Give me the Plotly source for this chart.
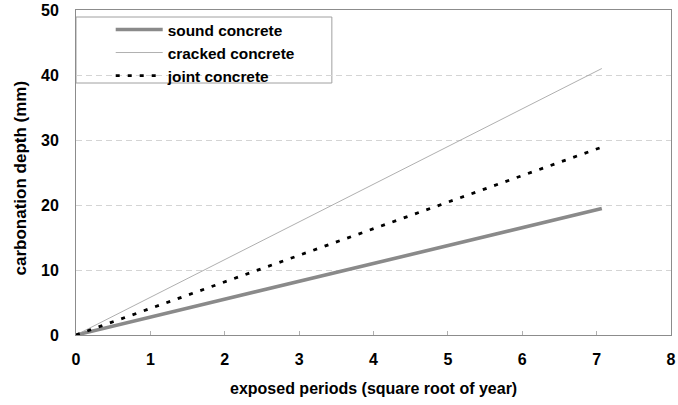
import plotly.graph_objects as go

# exposure time axis (square root of years) and measured carbonation depths (mm)
sqrt_years = [0, 1, 2, 3, 4, 5, 6, 7.07]
sound_depth = [0, 2.75, 5.5, 8.25, 11.0, 13.75, 16.5, 19.45]
cracked_depth = [0, 5.8, 11.6, 17.4, 23.2, 29.0, 34.8, 41.0]
joint_depth = [0, 4.1, 8.2, 12.3, 16.4, 20.4, 24.5, 28.9]

x_ticks = [0, 1, 2, 3, 4, 5, 6, 7, 8]
y_ticks = [0, 10, 20, 30, 40, 50]

FONT = "Liberation Sans"
W, H = 678, 405
ML, MR, MT, MB = 76, 2, 10, 70

fig = go.Figure()
fig.add_trace(go.Scatter(
    x=sqrt_years, y=sound_depth, mode="lines", name="sound concrete",
    line=dict(color="#8a8a8a", width=3.6)))
fig.add_trace(go.Scatter(
    x=sqrt_years, y=cracked_depth, mode="lines", name="cracked concrete",
    line=dict(color="#9a9a9a", width=0.8)))
fig.add_trace(go.Scatter(
    x=sqrt_years, y=joint_depth, mode="lines", name="joint concrete",
    line=dict(color="#000000", width=2.8, dash="4px,8px")))

pw = W - ML - MR
ph = H - MT - MB

def px_x(p):
    return (p - ML) / pw

def px_y(p):
    return 1 - (p - MT) / ph

# legend frame
fig.add_shape(type="rect", xref="paper", yref="paper",
              x0=px_x(76), x1=px_x(334), y0=px_y(83), y1=px_y(17),
              line=dict(color="#a0a0a0", width=1), fillcolor="white", layer="below")

fig.update_layout(
    width=W, height=H,
    margin=dict(l=ML, r=MR, t=MT, b=MB),
    paper_bgcolor="white", plot_bgcolor="white",
    font=dict(family=FONT, size=16, color="black"),
    showlegend=True,
    legend=dict(
        x=px_x(111), y=px_y(13), xanchor="left", yanchor="top",
        bgcolor="rgba(0,0,0,0)", borderwidth=0,
        font=dict(family=FONT, size=15.4, color="black", weight="bold"),
        itemwidth=47, tracegroupgap=0,
    ),
    xaxis=dict(
        range=[0, 8], tickvals=x_ticks, ticktext=[str(v) for v in x_ticks],
        showline=True, linecolor="#8c8c8c", linewidth=1, mirror=True,
        ticks="inside", ticklen=4, tickcolor="#b0b0b0", tickwidth=1,
        showgrid=False, zeroline=False, ticklabeloverflow="allow",
        tickfont=dict(family=FONT, size=16, color="black", weight="bold"),
        ticklabelstandoff=10,
    ),
    yaxis=dict(
        range=[0, 50], tickvals=y_ticks, ticktext=[str(v) for v in y_ticks],
        showline=True, linecolor="#8c8c8c", linewidth=1, mirror=True,
        ticks="", showgrid=True, gridcolor="#d4d4d4", gridwidth=1,
        griddash="6px,4px", zeroline=False,
        tickfont=dict(family=FONT, size=16, color="black", weight="bold"),
        ticklabelstandoff=13,
    ),
    annotations=[
        dict(text="<b>exposed periods (square root of year)</b>", xref="paper", yref="paper",
             x=px_x(376), y=px_y(388), xanchor="center", yanchor="middle",
             showarrow=False, font=dict(family=FONT, size=16, color="black")),
        dict(text="<b>carbonation depth (mm)</b>", xref="paper", yref="paper",
             x=px_x(20), y=px_y(178), xanchor="center", yanchor="middle",
             textangle=-90, showarrow=False, font=dict(family=FONT, size=17, color="black")),
    ],
)

fig.write_html("out.html")
